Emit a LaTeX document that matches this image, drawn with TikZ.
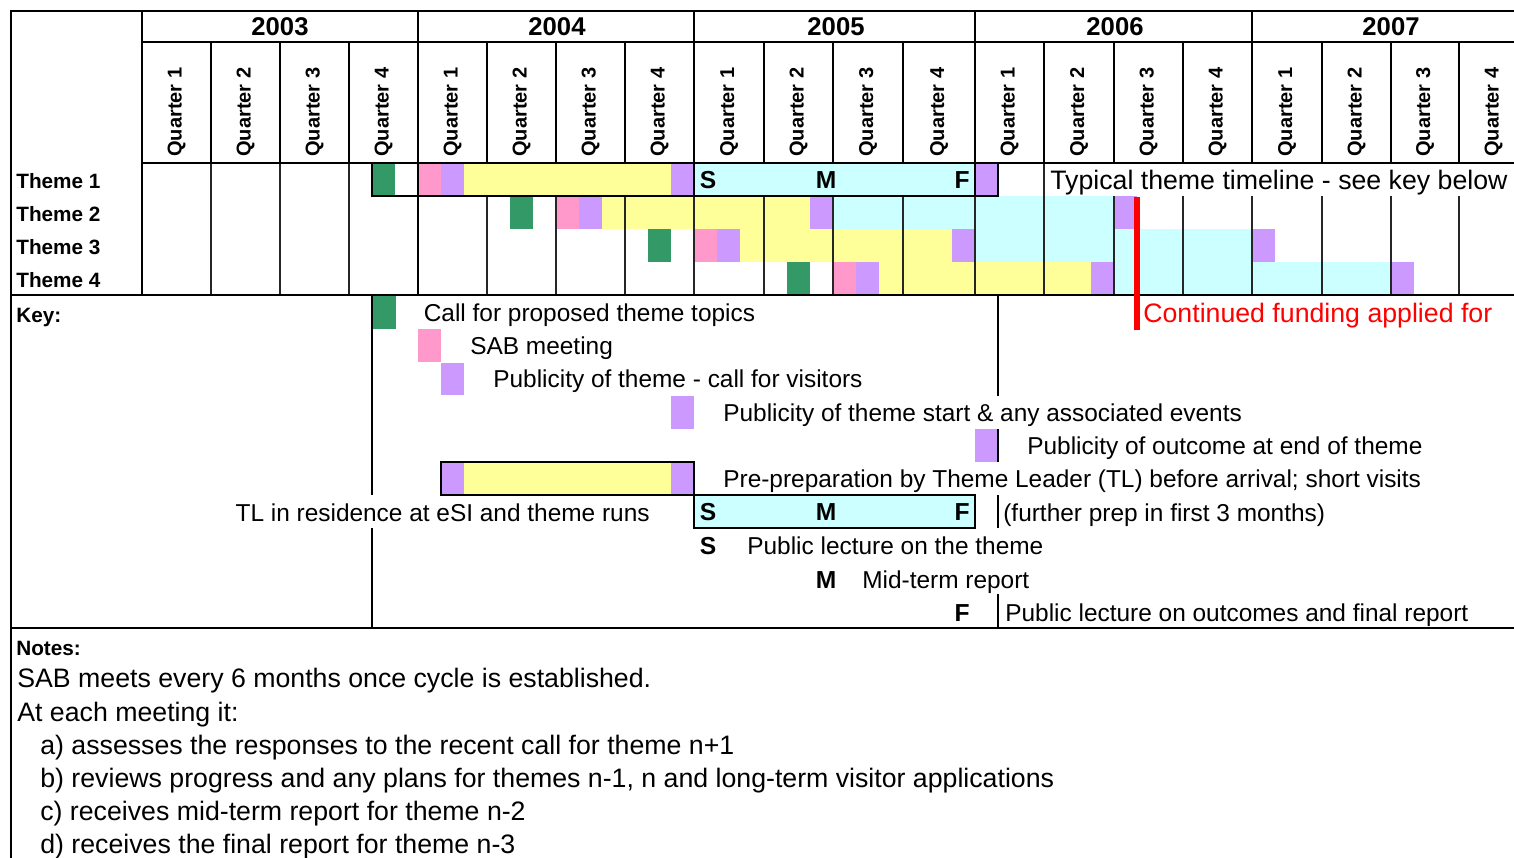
\documentclass[tikz,border=0pt]{standalone}
\usepackage{fontspec}
\setmainfont{Liberation Sans}
\usetikzlibrary{positioning}
\definecolor{callgreen}{RGB}{51,153,102}
\definecolor{sabpink}{RGB}{255,153,204}
\definecolor{pubpurple}{RGB}{204,153,255}
\definecolor{prepyellow}{RGB}{255,255,153}
\definecolor{runcyan}{RGB}{204,255,255}
\tikzset{
    %Define fill styles for the cells
    callcell/.style={fill=callgreen},
    sabcell/.style={fill=sabpink},
    pubcell/.style={fill=pubpurple},
    prepcell/.style={fill=prepyellow},
    runcell/.style={fill=runcyan},
    %Define style for key swatches
    keycell/.style={
           rectangle,
           inner sep=0pt, outer sep=0pt,
           minimum width=0.46cm,
           minimum height=0.66cm},
    %Define line styles
    thickline/.style={line width=1.5pt},
    gridline/.style={line width=0.7pt, black!85},
    %Define text styles
    rowlabel/.style={anchor=west, inner sep=0pt, text height=0.72em, text depth=0.2em,
           yshift=-0.08cm, font=\bfseries\fontsize{11.8}{14}\selectfont},
    yearlabel/.style={inner sep=0pt, font=\bfseries\fontsize{14.6}{17}\selectfont},
    quarterlabel/.style={rotate=90, anchor=west, inner sep=0pt,
           font=\bfseries\fontsize{11.4}{13}\selectfont},
    keytext/.style={anchor=west, inner sep=0pt, text height=0.72em, text depth=0.2em,
           yshift=-0.08cm, font=\fontsize{13.9}{16}\selectfont},
    bigtext/.style={anchor=west, inner sep=0pt, text height=0.72em, text depth=0.2em,
           yshift=-0.09cm, font=\fontsize{15.2}{18}\selectfont},
    smf/.style={inner sep=0pt, text height=0.72em, text depth=0.2em,
           yshift=-0.08cm, font=\bfseries\fontsize{14}{16}\selectfont}
}
\begin{document}
\begin{tikzpicture}[x=0.02cm,y=-0.02cm]
\useasboundingbox (0,0) rectangle (1514,858);
\clip (0,0) rectangle (1514,858);
% theme bars
\foreach \t/\g/\p/\e/\f in {1/372/418/694/975,2/510/556/833/1114,3/648/694/975/1252,4/787/833/1114/1391}{
  \pgfmathsetmacro{\ya}{130+33*\t}
  \pgfmathsetmacro{\yb}{163+33*\t}
  \fill[callcell] (\g,\ya) rectangle (\g+23,\yb);
  \fill[sabcell] (\p,\ya) rectangle (\p+23,\yb);
  \fill[pubcell] (\p+23,\ya) rectangle (\p+46,\yb);
  \fill[prepcell] (\p+46,\ya) rectangle (\e-23,\yb);
  \fill[pubcell] (\e-23,\ya) rectangle (\e,\yb);
  \fill[runcell] (\e,\ya) rectangle (\f,\yb);
  \fill[pubcell] (\f,\ya) rectangle (\f+23,\yb);
  \node[rowlabel] (theme\t) at (16,\ya+17) {Theme \t};
}
% grid of the theme rows
\foreach \q in {211,280,349,487,556,625,694,764,833,903,975,1044,1114,1183,1252,1322,1391,1459}
  \draw[gridline] (\q,196) -- (\q,295);
\foreach \q in {211,280,349,1044}
  \draw[gridline] (\q,163) -- (\q,196);
% header
\foreach \q in {211,280,349,487,556,625,764,833,903,1044,1114,1183,1322,1391,1459}
  \draw[thickline] (\q,42) -- (\q,163);
\foreach \q in {418,694,975,1252}
  \draw[thickline] (\q,11) -- (\q,163);
\draw[thickline] (11,11) -- (1514,11);
\draw[thickline] (11,10) -- (11,858);
\draw[thickline] (142,11) -- (142,295);
\draw[thickline] (418,163) -- (418,295);
\draw[thickline] (142,42) -- (1514,42);
\draw[thickline] (142,163) -- (1514,163);
\draw[thickline] (11,295) -- (1514,295);
\draw[thickline] (11,628) -- (1514,628);
\foreach \yr/\cx in {2003/280,2004/557,2005/836,2006/1115,2007/1391}
  \node[yearlabel] (y\yr) at (\cx,27) {\yr};
\foreach \cx [count=\i from 0] in {176.5,245.5,314.5,383.5,452.5,521.5,590.5,659.5,729,798.5,868,939,1009.5,1079,1148.5,1217.5,1287,1356.5,1425,1493.5}{
  \pgfmathtruncatemacro{\qn}{mod(\i,4)+1}
  \node[quarterlabel] (q\i) at (\cx,157) {Quarter \qn};
}
% typical theme box
\draw[thickline] (372,163) -- (372,196) -- (998,196) -- (998,163);
\draw[thickline] (694,163) -- (694,196);
\draw[thickline] (975,163) -- (975,196);
\node[smf] (s1) at (708,180) {S};
\node[smf] (m1) at (826,180) {M};
\node[smf] (f1) at (962,180) {F};
\node[bigtext] (typical) at (1050,180) {Typical theme timeline - see key below};
% key
\node[rowlabel] (key) at (16,314) {Key:};
\draw[thickline] (372,295) -- (372,495);
\draw[thickline] (372,528) -- (372,628);
\draw[thickline] (998,295) -- (998,396);
\node[keycell, callcell] (kcall) at (384,312.5) {};
\node[keytext, right=0.56cm of kcall] (tcall) {Call for proposed theme topics};
\node[keycell, sabcell] (ksab) at (429.5,345.5) {};
\node[keytext, right=0.58cm of ksab] (tsab) {SAB meeting};
\node[keycell, pubcell] (kpubcall) at (452.5,379) {};
\node[keytext, right=0.58cm of kpubcall] (tpubcall) {Publicity of theme - call for visitors};
\node[keycell, pubcell] (kpubstart) at (682.5,412.5) {};
\node[keytext, right=0.58cm of kpubstart] (tpubstart) {Publicity of theme start \& any associated events};
\node[keycell, pubcell] (kpubend) at (986.5,445.5) {};
\draw[thickline] (kpubend.north east) -- (kpubend.south east);
\node[keytext, right=0.58cm of kpubend] (tpubend) {Publicity of outcome at end of theme};
\node[keycell, prepcell, minimum width=5.06cm] (kprep) at (567.5,478.5) {};
\fill[pubcell] (kprep.north west) rectangle ++(23,33);
\fill[pubcell] (kprep.south east) rectangle ++(-23,-33);
\draw[thickline] (kprep.north west) rectangle (kprep.south east);
\node[keytext, right=0.58cm of kprep] (tprep) {Pre-preparation by Theme Leader (TL) before arrival; short visits};
\node[keycell, runcell, draw, thickline, minimum width=5.62cm] (krun) at (834.5,511.5) {};
\node[smf] (s2) at (708,512) {S};
\node[smf] (m2) at (826,512) {M};
\node[smf] (f2) at (962,512) {F};
\node[keytext, anchor=east] (trun) at (650,513) {TL in residence at eSI and theme runs};
\draw[thickline] (998,495) -- (998,528);
\node[keytext] (tfurther) at (1003,513) {(further prep in first 3 months)};
\node[smf] (s3) at (708,546) {S};
\node[keytext] (ts) at (747,546) {Public lecture on the theme};
\node[smf] (m3) at (826,580) {M};
\node[keytext] (tm) at (862,580) {Mid-term report};
\node[smf] (f3) at (962,613) {F};
\draw[thickline] (998,594) -- (998,628);
\node[keytext] (tf) at (1005,613) {Public lecture on outcomes and final report};
% continued funding
\fill[red] (1134,197) rectangle (1140,330);
\node[bigtext, red] (funding) at (1143,313) {Continued funding applied for};
% notes
\node[rowlabel] (notes) at (16,647) {Notes:};
\node[bigtext] (n1) at (17,678) {SAB meets every 6 months once cycle is established.};
\node[bigtext] (n2) at (17,712) {At each meeting it:};
\node[bigtext] (na) at (40,745) {a) assesses the responses to the recent call for theme n+1};
\node[bigtext] (nb) at (40,778) {b) reviews progress and any plans for themes n-1, n and long-term visitor applications};
\node[bigtext] (nc) at (40,811) {c) receives mid-term report for theme n-2};
\node[bigtext] (nd) at (40,844) {d) receives the final report for theme n-3};
\end{tikzpicture}
\end{document}
